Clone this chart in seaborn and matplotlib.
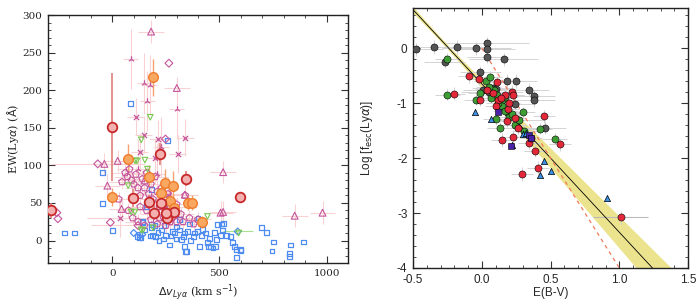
import numpy as np
import pandas as pd
import matplotlib
matplotlib.use('Agg')
import matplotlib.pyplot as plt
import seaborn as sns
from matplotlib.ticker import MultipleLocator

# ---------------- left panel data: dv (km/s), EW (A) ----------------
sq_dv = [-222, -176, 0, -44, -46, 85, 257, 696, 718, 752, 745, 830, 826, 826, 893, 580, 580, 600,
         182, 140, 151, 125, 182, 200, 228, 268, 274, 282, 315, 333, 352, 380, 343, 407, 398, 418,
         444, 453, 458, 477, 486, 490, 518, 533, 551, 560, 569, 597, 128, 237, 297, 324, 366, 189,
         213, 250, 291, 338, 384, 435, 505, 514, 116, 134, 176, 199, 241, 315, 218, 338, 347, 449,
         482, 509, 139, 181, 160, 265, 420, 470, 300, 360, 400]
sq_ew = [10, 10, 13, 90, 49, 182, 133, 17, 11, -2, -14, -6, -21, -17, -2, -12, -23, -13,
         68, 25, 14, 8, 17, 5, 14, -6, 6, 12, 14, 5, 12, 5, -15, -8, 12, 7,
         -3, 3, -8, 11, 1, 21, 23, 7, 5, -3, -8, -12, 4, 2, 2, 1, 0, 7,
         11, 7, 10, 10, 10, 10, 7, 14, 5, 4, 6, 20, 20, 28, 0, -8, -15, -8,
         -8, 22, 24, 21, 45, 45, 15, -10, 18, 22, 30]

bdia_dv = [585, 140, 100]
bdia_ew = [12, 8, 10]

gtri_dv = [177, 135, 106, 164, 74, 106, 143, 444, 152, 190, 115, 88, 134, 590]
gtri_ew = [164, 134, 106, 95, 73, 38, 14, 32, 107, 17, 106, 38, 14, 10]

mx_dv = [110, 146, 213, 340, 128, 305, 35, 200, 260]
mx_ew = [165, 141, 135, 137, 118, 115, 30, 110, 60]

mtri_dv = [85, 148, 174, 162, 301, 228, 120, 210]
mtri_ew = [241, 209, 207, 186, 175, 124, 95, 88]

mup_dv = [181, 301, -37, 25, 517, -23, 43, 851, 981, 517, 338, 505, 150]
mup_ew = [278, 203, 102, 106, 91, 73, 42, 33, 37, 38, 61, 37, 80]

mdia_dv = [264, 248, -68, -254, -259, -9, 120]
mdia_ew = [236, 135, 102, 29, 37, 24, 20]

pent_dv = [60, 70, 80, 90, 100, 110, 120, 130, 140, 150, 160, 170, 180, 190, 200, 210, 220, 230,
           240, 250, 260, 270, 280, 300, 320, 340, 360, 380, 400, 30, 45, 75, 95, 120, 150, 180,
           210, 240, 270, 300, 130, 160, 190, 220, 250, 330]
pent_ew = [90, 85, 95, 80, 75, 88, 70, 60, 82, 70, 90, 62, 75, 55, 85, 65, 45, 70,
           55, 40, 62, 45, 30, 48, 35, 60, 30, 22, 28, 55, 78, 40, 30, 25, 20, 28,
           22, 30, 25, 25, 45, 40, 35, 30, 20, 25]

or_dv = [190, 71, 172, 245, 282, 227, 0, 268, 352, 372, 417, 287]
or_ew = [217, 109, 85, 77, 73, 63, 58, 53, 50, 50, 24, 43]
or_err = [25, 20, 15, 18, 20, 12, 12, 15, 10, 10, 8, 12]

rd_dv = [0, 222, 343, 97, 594, 171, 225, -284, 195, 290, 255, 251]
rd_ew = [151, 115, 82, 56, 58, 51, 50, 40, 37, 38, 30, 37]
rd_err = [72, 15, 10, 12, 6, 10, 10, 10, 10, 12, 8, 10]

# ---------------- right panel data: E(B-V), log fesc ----------------
gr_e = [-0.48, -0.35, -0.18, -0.04, 0.04, 0.04, 0.04, -0.27, 0.16, -0.01, 0.08, 0.01, 0.18,
        0.25, 0.34, 0.38, 0.38, 0.24, 0.46, 0.26, 0.10, 0.05]
gr_l = [-0.02, 0.02, 0.02, 0.0, 0.09, -0.02, -0.16, -0.25, -0.20, -0.44, -0.72, -0.77, -0.60,
        -0.60, -0.76, -0.88, -0.95, -1.01, -1.45, -1.31, -0.74, -0.80]
gr_xerr = [0.2, 0.25, 0.2, 0.25, 0.3, 0.2, 0.15, 0.15, 0.25, 0.15, 0.15, 0.15, 0.2,
           0.15, 0.15, 0.15, 0.15, 0.15, 0.15, 0.2, 0.15, 0.2]

gn_e = [-0.25, -0.25, -0.01, -0.04, 0.03, 0.06, 0.09, 0.11, 0.15, 0.17, 0.15, 0.19, 0.17, 0.10,
        0.20, 0.24, 0.30, 0.13, 0.42, 0.53, 0.31, 0.22, 0.05, 0.12, 0.07, 0.27]
gn_l = [-0.19, -0.85, -0.82, -0.94, -0.60, -0.52, -0.76, -0.86, -0.95, -0.89, -1.06, -1.18, -1.14,
        -1.29, -1.26, -1.40, -1.17, -1.45, -1.47, -1.65, -1.50, -1.20, -0.70, -1.00, -0.90, -1.30]

rd_e = [-0.09, -0.20, -0.02, -0.01, 0.04, 0.11, 0.22, 0.23, 0.17, 0.12, 0.10, 0.18, 0.24, 0.45,
        0.15, 0.23, 0.34, 0.57, 0.39, 0.41, 0.29, 1.01, 0.19, 0.14, 0.26, 0.36, 0.08, 0.20]
rd_l = [-0.51, -0.83, -0.56, -0.94, -0.77, -0.62, -0.79, -0.86, -0.86, -0.95, -1.06, -1.32, -1.27,
        -1.24, -1.67, -1.61, -1.72, -1.75, -1.87, -2.18, -2.29, -3.08, -1.10, -0.90, -1.45, -1.63,
        -0.82, -1.00]

bt_e = [-0.05, 0.07, 0.30, 0.22, 0.45, 0.42, 0.50, 0.91, 0.32]
bt_l = [-1.16, -1.29, -1.57, -1.77, -2.06, -2.31, -2.23, -2.72, -1.55]

ps_e = [0.12, 0.34, 0.21, 0.36]
ps_l = [-1.16, -1.58, -1.78, -1.64]

# fit: log fesc = a + b E(B-V); dashed reference line
fit_a, fit_b = -0.65, -2.7
ref_b = -4.0

sns.set_theme(style='ticks')
fig = plt.figure(figsize=(7.0, 3.02), dpi=100)
ax1 = fig.add_axes([0.0686, 0.129, 0.4286, 0.821])
ax2 = fig.add_axes([0.590, 0.1126, 0.393, 0.861])

pink = '#f8d2d2'
mag = '#c4559c'

# left panel -----------------------------------------------------------
ax1.errorbar(mup_dv, mup_ew, xerr=60, yerr=15, fmt='none', ecolor=pink, lw=0.8, zorder=1)
ax1.errorbar(mtri_dv, mtri_ew, xerr=35, yerr=40, fmt='none', ecolor=pink, lw=0.8, zorder=1)
ax1.errorbar(mx_dv, mx_ew, xerr=40, yerr=25, fmt='none', ecolor=pink, lw=0.8, zorder=1)
ax1.errorbar(pent_dv, pent_ew, xerr=60, yerr=10, fmt='none', ecolor=pink, lw=0.7, zorder=1)
ax1.errorbar([-68, 120, 80, 230], [102, 20, 30, 45], xerr=[220, 220, 200, 160], fmt='none',
             ecolor=pink, lw=0.8, zorder=1)
ax1.errorbar(or_dv, or_ew, yerr=or_err, fmt='none', ecolor='#f4a070', lw=1.0, zorder=2)
ax1.errorbar(rd_dv, rd_ew, yerr=rd_err, fmt='none', ecolor='#e08078', lw=1.2, zorder=2)
ax1.errorbar([585], [12], xerr=[70], fmt='none', ecolor='#a8e090', lw=0.8, zorder=1)

sns.scatterplot(x=sq_dv, y=sq_ew, ax=ax1, marker='s', s=12, facecolor='none',
                edgecolor='#4f8cf0', linewidth=0.9, zorder=3)
sns.scatterplot(x=bdia_dv, y=bdia_ew, ax=ax1, marker='D', s=12, facecolor='none',
                edgecolor='#4f8cf0', linewidth=0.9, zorder=3)
sns.scatterplot(x=pent_dv, y=pent_ew, ax=ax1, marker='p', s=26, facecolor='none',
                edgecolor=mag, linewidth=0.8, zorder=3)
sns.scatterplot(x=mdia_dv, y=mdia_ew, ax=ax1, marker='D', s=16, facecolor='none',
                edgecolor=mag, linewidth=0.8, zorder=3)
sns.scatterplot(x=mup_dv, y=mup_ew, ax=ax1, marker='^', s=24, facecolor='none',
                edgecolor=mag, linewidth=0.8, zorder=3)
sns.scatterplot(x=mx_dv, y=mx_ew, ax=ax1, marker='x', s=14, color=mag, linewidth=0.9, zorder=3)
sns.scatterplot(x=mtri_dv, y=mtri_ew, ax=ax1, marker='2', s=22, color=mag, linewidth=0.9, zorder=3)
sns.scatterplot(x=gtri_dv, y=gtri_ew, ax=ax1, marker='v', s=16, facecolor='none',
                edgecolor='#78c850', linewidth=0.8, zorder=3)
sns.scatterplot(x=or_dv, y=or_ew, ax=ax1, marker='o', s=48, facecolor='#f8a860',
                edgecolor='#f07c2c', linewidth=1.0, zorder=4)
sns.scatterplot(x=rd_dv, y=rd_ew, ax=ax1, marker='o', s=48, facecolor='#f2b0ae',
                edgecolor='#c8282a', linewidth=1.3, zorder=5)

ax1.set_xlim(-300, 1100)
ax1.set_ylim(-30, 300)
ax1.xaxis.set_major_locator(MultipleLocator(500))
ax1.xaxis.set_minor_locator(MultipleLocator(100))
ax1.yaxis.set_major_locator(MultipleLocator(50))
ax1.yaxis.set_minor_locator(MultipleLocator(10))
serif = {'family': 'DejaVu Serif', 'size': 8}
ax1.set_xlabel(r'$\Delta v_{Ly\alpha}$ (km s$^{-1}$)', fontdict=serif, labelpad=3)
ax1.set_ylabel(r'EW(Ly$\alpha$) ($\rm\AA$)', fontdict=serif, labelpad=1)
for lab in ax1.get_xticklabels() + ax1.get_yticklabels():
    lab.set_family('DejaVu Serif')
    lab.set_fontsize(7.5)

# right panel ----------------------------------------------------------
egrid = np.linspace(-0.5, 1.5, 200)
center = fit_a + fit_b * egrid
half = np.sqrt(0.04 ** 2 + 0.22 ** 2 * (egrid + 0.3) ** 2)
ax2.fill_between(egrid, center - half, center + half, color='#ece38e', lw=0, zorder=1)
fit_df = pd.DataFrame({'E': [-0.5, 1.5], 'L': [fit_a + fit_b * -0.5, fit_a + fit_b * 1.5]})
sns.lineplot(data=fit_df, x='E', y='L', ax=ax2, color='black', lw=0.6, zorder=2)
ref_df = pd.DataFrame({'E': [0.0, 1.05], 'L': [0.0, ref_b * 1.05]})
sns.lineplot(data=ref_df, x='E', y='L', ax=ax2, color='#f07a5a', lw=0.9, ls=(0, (3, 3)), zorder=2)

grey_err = '#d4d4d4'
ax2.errorbar(gr_e, gr_l, xerr=gr_xerr, yerr=0.12, fmt='none', ecolor=grey_err, lw=0.7, zorder=1)
ax2.errorbar(gn_e, gn_l, xerr=0.09, yerr=0.1, fmt='none', ecolor=grey_err, lw=0.7, zorder=1)
ax2.errorbar(rd_e, rd_l, xerr=0.08, yerr=0.12, fmt='none', ecolor=grey_err, lw=0.7, zorder=1)
ax2.errorbar([1.01], [-3.08], xerr=[0.2], fmt='none', ecolor='#bbbbbb', lw=0.8, zorder=1)

sns.scatterplot(x=gr_e, y=gr_l, ax=ax2, marker='o', s=26, color='#555555',
                edgecolor='black', linewidth=0.4, zorder=3)
sns.scatterplot(x=gn_e, y=gn_l, ax=ax2, marker='o', s=26, color='#3f9d36',
                edgecolor='black', linewidth=0.4, zorder=3)
sns.scatterplot(x=rd_e, y=rd_l, ax=ax2, marker='o', s=26, color='#e3283a',
                edgecolor='black', linewidth=0.4, zorder=3)
sns.scatterplot(x=bt_e, y=bt_l, ax=ax2, marker='^', s=20, color='#3c90e6',
                edgecolor='black', linewidth=0.5, zorder=4)
sns.scatterplot(x=ps_e, y=ps_l, ax=ax2, marker='s', s=22, color='#4a22a8',
                edgecolor='black', linewidth=0.4, zorder=4)

ax2.set_xlim(-0.5, 1.5)
ax2.set_ylim(-4, 0.73)
ax2.xaxis.set_major_locator(MultipleLocator(0.5))
ax2.xaxis.set_minor_locator(MultipleLocator(0.1))
ax2.yaxis.set_major_locator(MultipleLocator(1))
ax2.yaxis.set_minor_locator(MultipleLocator(0.2))
ax2.set_xticks([-0.5, 0.0, 0.5, 1.0, 1.5])
ax2.set_xticklabels(['-0.5', '0.0', '0.5', '1.0', '1.5'])
ax2.set_yticks([0, -1, -2, -3, -4])
ax2.set_yticklabels(['0', '-1', '-2', '-3', '-4'])
sans = {'family': 'Liberation Sans', 'size': 8.5}
ax2.set_xlabel('E(B-V)', fontdict=sans, labelpad=1)
ax2.set_ylabel(r'Log [f$_{\rm esc}$(Ly$\alpha$)]', fontdict=sans, labelpad=16)
for lab in ax2.get_xticklabels() + ax2.get_yticklabels():
    lab.set_family('Liberation Sans')
    lab.set_fontsize(8.5)

for ax in (ax1, ax2):
    ax.tick_params(which='both', direction='in', top=True, right=True, color='#333333')
    ax.tick_params(which='major', length=5, width=0.8, pad=4)
    ax.tick_params(which='minor', length=2.5, width=0.6)
    for sp in ax.spines.values():
        sp.set_linewidth(1.0)
        sp.set_color('#222222')

fig.savefig('out.png', dpi=100)
